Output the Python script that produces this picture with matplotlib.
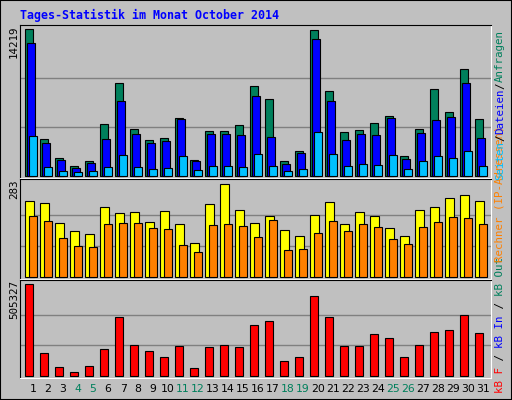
import matplotlib.pyplot as plt
import numpy as np

DAYS = list(range(1, 32))
WEEKEND = [4, 5, 11, 12, 18, 19, 25, 26]

HITS = [14219, 3579, 1741, 967, 1451, 5029, 8995, 4546, 3482, 3675, 5610, 1548, 4352, 4352, 4933,
        8705, 7447, 1451, 2418, 14122, 8221, 4256, 4449, 5126, 5803, 1934, 4546, 8415, 6190, 10349, 5513]
FILES = [12864, 3192, 1548, 774, 1257, 3579, 7254, 4062, 3192, 3385, 5513, 1451, 4062, 4062, 3966,
         7738, 3772, 1161, 2225, 13251, 7254, 3482, 4062, 3966, 5610, 1644, 4159, 5416, 5707, 8995, 3675]
PAGES = [3869, 870, 484, 387, 484, 870, 2031, 870, 677, 774, 1934, 580, 967, 967, 870,
         2128, 967, 484, 677, 4256, 2128, 967, 1161, 1064, 2031, 677, 1451, 1934, 1741, 2418, 967]
VISITS = [231, 225, 163, 139, 130, 213, 194, 197, 167, 200, 160, 102, 222, 283, 203,
          163, 185, 142, 124, 188, 228, 160, 197, 185, 148, 124, 203, 213, 240, 249, 231]
SITES = [185, 170, 117, 93, 90, 160, 163, 163, 148, 145, 96, 75, 157, 160, 154,
         121, 173, 81, 84, 133, 170, 139, 160, 151, 114, 99, 151, 167, 182, 179, 160]
KBYTES = [505327, 123548, 46100, 18440, 51632, 145676, 322700, 167804, 134612, 101420, 162272,
          40568, 156740, 167804, 156740, 278444, 300572, 79292, 101420, 438872, 322700, 162272,
          162272, 228656, 206528, 101420, 167804, 239720, 250784, 333764, 234188]

BG = "#c0c0c0"
MONO = "DejaVu Sans Mono"


def style_panel(ax, top, ymin, ymax):
    ax.set_facecolor(BG)
    ax.set_xlim(0.5, 31.9)
    ax.set_ylim(ymin, ymax)
    ax.set_xticks([])
    ax.set_yticks([])
    for s in ["left", "top"]:
        ax.spines[s].set_color("black")
    for s in ["right", "bottom"]:
        ax.spines[s].set_color("white")
    for f in (1 / 3, 2 / 3):
        ax.axhline(top * f, color="#808080", lw=1, zorder=0)


def bars(ax, offset, width, values, color):
    x = np.array(DAYS) - 0.147 + offset
    ax.bar(x, values, width=width, align="edge", color=color, edgecolor="black", lw=0.8, zorder=2)


fig = plt.figure(figsize=(5.12, 4.0), dpi=100, facecolor=BG)
fig.patches.append(plt.Rectangle((0, 0), 1, 1, transform=fig.transFigure, fill=False,
                                 edgecolor="black", lw=1.5))

ax1 = fig.add_axes([20 / 512, 1 - 178 / 400, 471 / 512, 153 / 400])
ax2 = fig.add_axes([20 / 512, 1 - 279 / 400, 471 / 512, 100 / 400])
ax3 = fig.add_axes([20 / 512, 1 - 378 / 400, 471 / 512, 98 / 400])

style_panel(ax1, max(HITS), -165, 14635)
bars(ax1, 0, 0.49, HITS, "#00805c")
bars(ax1, 0.133, 0.49, FILES, "#0000ff")
bars(ax1, 0.267, 0.49, PAGES, "#00c0ff")

style_panel(ax2, max(VISITS), -7, 299)
bars(ax2, 0, 0.55, VISITS, "#ffff00")
bars(ax2, 0.267, 0.49, SITES, "#ff8000")

style_panel(ax3, max(KBYTES), -12700, 529100)
bars(ax3, 0, 0.49, KBYTES, "#ff0000")

ax3.set_xticks(np.array(DAYS) + 0.37)
ax3.set_xticklabels([str(d) for d in DAYS], fontsize=7.8)
ax3.tick_params(axis="x", length=0, pad=4)
for lbl, d in zip(ax3.get_xticklabels(), DAYS):
    lbl.set_color("#00805c" if d in WEEKEND else "black")

fig.text(20 / 512, 1 - 15 / 400, "Tages-Statistik im Monat October 2014", family=MONO,
         fontsize=8.4, weight="bold", color="#0000ff", va="center")

for label, ytop in [(str(max(HITS)), 25), (str(max(VISITS)), 180), (str(max(KBYTES)), 280)]:
    fig.text(14 / 512, 1 - ytop / 400, label, family=MONO, fontsize=7.8, rotation=90,
             ha="center", va="top", color="black")


def legend(start, parts):
    y = start
    for txt, col in parts:
        fig.text(500 / 512, 1 - y / 400, txt, family=MONO, fontsize=7.8, rotation=90,
                 ha="center", va="bottom", color=col)
        y -= 6.5 * len(txt)


legend(393, [("kB F", "#ff0000"), (" / ", "black"), ("kB In", "#0000ff"), (" / ", "black"),
             ("kB Out", "#00805c")])
legend(262, [("Rechner (IP-Adressen)", "#ff8000")])
legend(180, [("Seiten", "#00c0ff"), ("/", "black"), ("Dateien", "#0000ff"), ("/", "black"),
             ("Anfragen", "#00805c")])

fig.savefig("out.png", dpi=100, facecolor=BG)
